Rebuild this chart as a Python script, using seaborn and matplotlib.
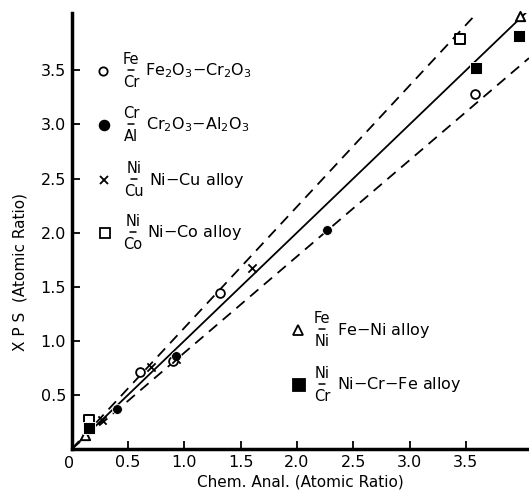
import matplotlib
matplotlib.use("Agg")
import matplotlib.pyplot as plt
from matplotlib.lines import Line2D
import seaborn as sns
import numpy as np

# ---- data ----
fe_cr_x = [0.61, 0.90, 1.32, 3.58]
fe_cr_y = [0.71, 0.81, 1.44, 3.28]

cr_al_x = [0.15, 0.40, 0.93, 2.27]
cr_al_y = [0.18, 0.37, 0.86, 2.02]

ni_cu_x = [0.17, 0.27, 0.70, 0.93, 1.60]
ni_cu_y = [0.20, 0.27, 0.76, 0.83, 1.67]

ni_co_x = [0.15, 3.45]
ni_co_y = [0.27, 3.79]

fe_ni_x = [0.12, 3.98]
fe_ni_y = [0.13, 4.00]

ni_cr_fe_x = [0.15, 3.59, 3.97]
ni_cr_fe_y = [0.19, 3.52, 3.82]

line_x = [0.0, 4.06]
slope_fit = 1.0
slope_upper = 1.12
slope_lower = 0.89

x_ticks = [0.5, 1.0, 1.5, 2.0, 2.5, 3.0, 3.5]
y_ticks = [0.5, 1.0, 1.5, 2.0, 2.5, 3.0, 3.5]

# ---- figure ----
sns.set_style("ticks")
plt.rcParams['font.family'] = ['DejaVu Sans']
for k in ("text.color", "axes.labelcolor", "xtick.color", "ytick.color", "axes.edgecolor"):
    plt.rcParams[k] = "black"

W, H = 529, 495
fig = plt.figure(figsize=(W / 100, H / 100), dpi=100)
ax = fig.add_axes([71.7 / W, 1 - 449 / H, 1 - 71.7 / W, (449 - 13) / H])

lx = np.array(line_x)
sns.lineplot(x=lx, y=lx * slope_fit, ax=ax, color="black", lw=1.3)
sns.lineplot(x=lx, y=lx * slope_upper, ax=ax, color="black", lw=1.3, linestyle=(0, (6, 4)))
sns.lineplot(x=lx, y=lx * slope_lower, ax=ax, color="black", lw=1.3, linestyle=(0, (6, 4)))

kw = dict(ax=ax, color="black", zorder=3, clip_on=False)
sns.scatterplot(x=fe_cr_x, y=fe_cr_y, marker="o", s=40, facecolor="white", edgecolor="black", linewidth=1.3, **kw)
sns.scatterplot(x=cr_al_x, y=cr_al_y, marker="o", s=50, **kw)
sns.scatterplot(x=ni_cu_x, y=ni_cu_y, marker="x", s=35, linewidth=1.3, **kw)
sns.scatterplot(x=ni_co_x, y=ni_co_y, marker="s", s=55, facecolor="white", edgecolor="black", linewidth=1.4, **kw)
sns.scatterplot(x=fe_ni_x, y=fe_ni_y, marker="^", s=45, facecolor="white", edgecolor="black", linewidth=1.4, **kw)
sns.scatterplot(x=ni_cr_fe_x, y=ni_cr_fe_y, marker="s", s=70, **kw)

ax.set_xlim(0, 4.06)
ax.set_ylim(0, 4.03)
ax.set_xticks(x_ticks)
ax.set_yticks(y_ticks)
ax.set_xticklabels([f"{t:.1f}" for t in x_ticks], fontsize=11.5)
ax.set_yticklabels([f"{t:.1f}" for t in y_ticks], fontsize=11.5)
ax.tick_params(direction="in", length=6, width=1.3, pad=4)

sns.despine(ax=ax)
for sp in ("left", "bottom"):
    ax.spines[sp].set_linewidth(2.5)

fig.text(69 / W, 1 - 463 / H, "0", ha="center", va="center", fontsize=11.5)
fig.text(300 / W, 1 - 482 / H, "Chem. Anal. (Atomic Ratio)", ha="center", va="center", fontsize=11)
fig.text(20 / W, 1 - 272 / H, "X P S  (Atomic Ratio)", ha="center", va="center", rotation=90, fontsize=11)


# ---- in-plot key ----
def key(px, py, marker, filled, ms, num, den, fx, label, tx):
    fc = "black" if filled else "white"
    ax.plot([px / W], [1 - py / H], marker=marker, ms=ms, mfc=fc, mec="black", mew=1.3,
            transform=fig.transFigure, clip_on=False, ls="none")
    fig.text(fx / W, 1 - py / H, f"{num}\n{den}", ha="center", va="center",
             fontsize=10.5, linespacing=1.6, multialignment="center")
    fig.add_artist(Line2D([(fx - 3) / W, (fx + 3) / W], [1 - (py - 1) / H, 1 - (py - 1) / H],
                          color="black", lw=1.1))
    fig.text(tx / W, 1 - py / H, label, ha="left", va="center", fontsize=11.5)


key(103, 71, "o", False, 6, "Fe", "Cr", 131, "Fe$_2$O$_3$$-$Cr$_2$O$_3$", 145)
key(104, 125, "o", True, 7, "Cr", "Al", 131, "Cr$_2$O$_3$$-$Al$_2$O$_3$", 146)
key(104, 180, "x", False, 6, "Ni", "Cu", 134, "Ni$-$Cu alloy", 149)
key(105, 233, "s", False, 7, "Ni", "Co", 133, "Ni$-$Co alloy", 147)
key(298, 330, "^", False, 7, "Fe", "Ni", 322, "Fe$-$Ni alloy", 337)
key(299, 385, "s", True, 8, "Ni", "Cr", 322, "Ni$-$Cr$-$Fe alloy", 337)

fig.savefig("out.png", dpi=100)
